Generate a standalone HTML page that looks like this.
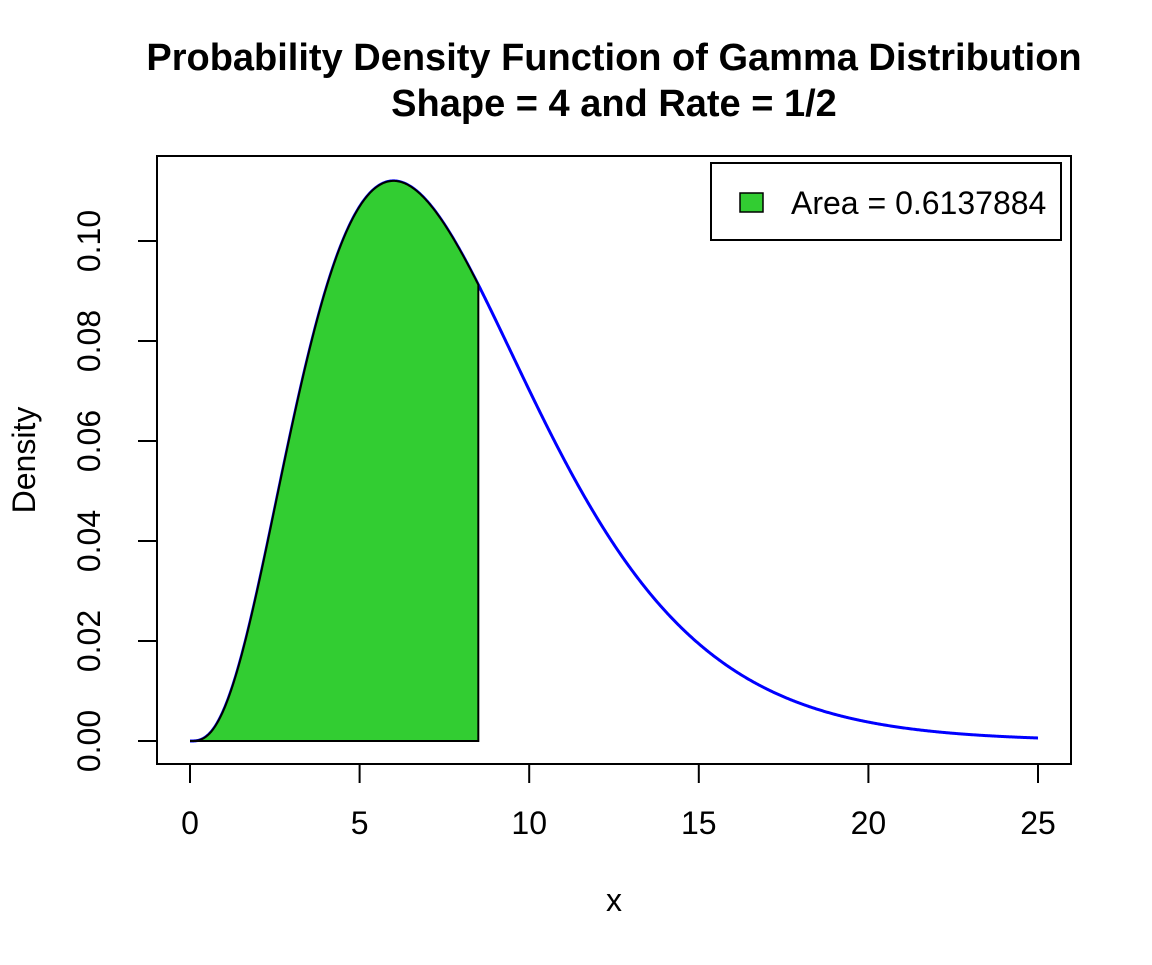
<!DOCTYPE html>
<html><head><meta charset="utf-8"><style>
html,body{margin:0;padding:0;background:#fff;}
svg text{font-family:"Liberation Sans",Arial,sans-serif;fill:#000;}
</style></head><body>
<svg id="s" width="1152" height="960" xmlns="http://www.w3.org/2000/svg">
<text x="614" y="70" font-size="38" font-weight="bold" text-anchor="middle">Probability Density Function of Gamma Distribution</text>
<text x="614" y="116" font-size="38" font-weight="bold" text-anchor="middle">Shape = 4 and Rate = 1/2</text>
<g id="plot"></g>
<rect x="157" y="156" width="914" height="608" fill="none" stroke="#000" stroke-width="2"/>
<g stroke="#000" stroke-width="2">
<line x1="190" y1="764" x2="1038" y2="764"/>
<line x1="190" y1="764" x2="190" y2="783"/><line x1="359.6" y1="764" x2="359.6" y2="783"/>
<line x1="529.2" y1="764" x2="529.2" y2="783"/><line x1="698.8" y1="764" x2="698.8" y2="783"/>
<line x1="868.4" y1="764" x2="868.4" y2="783"/><line x1="1038" y1="764" x2="1038" y2="783"/>
<line x1="157" y1="241" x2="157" y2="741"/>
<line x1="138" y1="741" x2="157" y2="741"/><line x1="138" y1="641" x2="157" y2="641"/>
<line x1="138" y1="541" x2="157" y2="541"/><line x1="138" y1="441" x2="157" y2="441"/>
<line x1="138" y1="341" x2="157" y2="341"/><line x1="138" y1="241" x2="157" y2="241"/>
</g>
<g font-size="32" text-anchor="middle">
<text x="190" y="834">0</text><text x="359.6" y="834">5</text><text x="529.2" y="834">10</text>
<text x="698.8" y="834">15</text><text x="868.4" y="834">20</text><text x="1038" y="834">25</text>
<text transform="translate(100,741) rotate(-90)">0.00</text>
<text transform="translate(100,641) rotate(-90)">0.02</text>
<text transform="translate(100,541) rotate(-90)">0.04</text>
<text transform="translate(100,441) rotate(-90)">0.06</text>
<text transform="translate(100,341) rotate(-90)">0.08</text>
<text transform="translate(100,241) rotate(-90)">0.10</text>
<text x="614" y="911">x</text>
<text transform="translate(35,460) rotate(-90)">Density</text>
</g>
<rect x="711" y="163" width="350" height="77" fill="#fff" stroke="#000" stroke-width="2"/>
<rect x="740" y="193" width="23" height="19" fill="#32CD32" stroke="#000" stroke-width="1.5"/>
<text x="791" y="214" font-size="32">Area = 0.6137884</text>
</svg>
<script>
function f(x){return x*x*x*Math.exp(-x/2)/96;}
function px(x){return 190+x*33.92;}
function py(y){return 741-y*5000;}
var blue="",fill="";
for(var i=0;i<=1000;i++){var x=25*i/1000;blue+=(i?"L":"M")+px(x).toFixed(2)+","+py(f(x)).toFixed(2);}
for(var i=0;i<=400;i++){var x=8.5*i/400;fill+=(i?"L":"M")+px(x).toFixed(2)+","+py(f(x)).toFixed(2);}
fill+="L"+px(8.5)+","+py(0)+"Z";
document.getElementById("plot").innerHTML=
'<path d="'+blue+'" fill="none" stroke="#0000FF" stroke-width="3"/>'+
'<path d="'+fill+'" fill="#32CD32" stroke="#000" stroke-width="2"/>';
</script>
</body></html>
